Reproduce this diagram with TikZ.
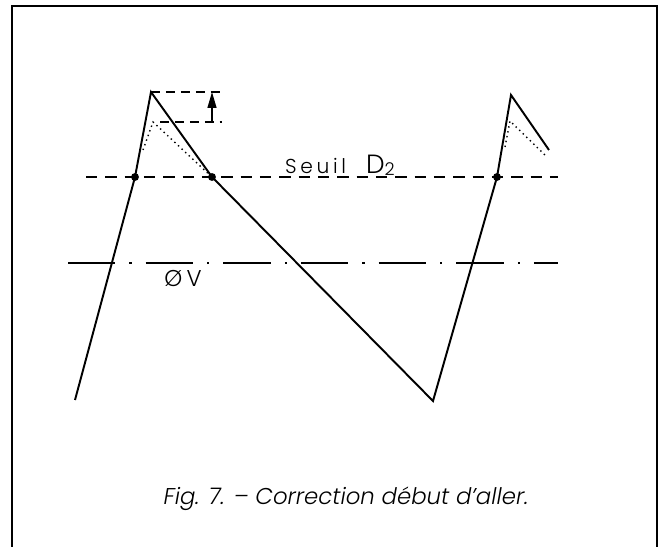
\documentclass[tikz,border=0pt]{standalone}
\usepackage{fontspec}
\setmainfont{Poppins}
\newfontfamily\handfont[LetterSpace=18]{Poppins Light}
\newfontfamily\capfont{Poppins Light}
\usetikzlibrary{arrows.meta}
\begin{document}
\begin{tikzpicture}[x=0.02cm,y=-0.02cm,
	wave/.style={line width=1.1pt,line join=miter},
	seuil/.style={line width=0.85pt,dash pattern=on 6.5pt off 4.5pt},
	zero/.style={line width=0.85pt,dash pattern=on 27pt off 8pt on 1.2pt off 8pt},
	gauge/.style={line width=0.8pt,dash pattern=on 5pt off 3.5pt},
	trace/.style={line width=0.8pt,dotted},
	pt/.style={circle,fill,inner sep=0pt,minimum size=4.5pt}]
	\useasboundingbox (0,0) rectangle (660,547);
	\draw[line width=1pt] (12,547) -- (12,6) -- (657,6) -- (657,547);

	% sawtooth
	\coordinate (a0) at (75,400);
	\coordinate (a1) at (135,177);
	\coordinate (p1) at (151,92);
	\coordinate (b1) at (212,177);
	\coordinate (m1) at (433,401);
	\coordinate (a2) at (497,177);
	\coordinate (p2) at (511,95);
	\coordinate (e2) at (549,150);
	\draw[wave] (a0) -- (a1) -- (p1) -- (b1) -- (m1) -- (a2) -- (p2) -- (e2);

	% corrected peaks
	\draw[trace] (143,150) -- (153,122) -- (b1);
	\draw[trace] (505,147) -- (510,121) -- (547,157);

	% levels
	\draw[seuil] (86,177) -- (558,177);
	\draw[zero] (68,263) -- (558,263);
	\node[pt] (d1) at (a1) {};
	\node[pt] (d2) at (b1) {};
	\node[pt] (d3) at (a2) {};
	\node[font=\handfont\fontsize{11.5}{13}\selectfont] (seuil) at (340,165) {Seuil\quad{\fontsize{15}{16}\selectfont D}\raisebox{-0.2ex}{\fontsize{10}{11}\selectfont 2}};
	\node[font=\handfont\fontsize{13}{15}\selectfont] (zv) at (183,279) {ØV};

	% correction height
	\draw[gauge] (p1) -- (222,92);
	\draw[gauge] (160,122) -- (222,122);
	\coordinate (h0) at (212,122);
	\coordinate (h1) at (212,92);
	\draw[line width=1pt,-{Triangle[length=9pt,width=5pt]}] (h0) -- (h1);

	\node[font=\capfont\itshape\fontsize{13}{15}\selectfont] (cap) at (346,499) {Fig. 7. – Correction début d’aller.};
\end{tikzpicture}
\end{document}
